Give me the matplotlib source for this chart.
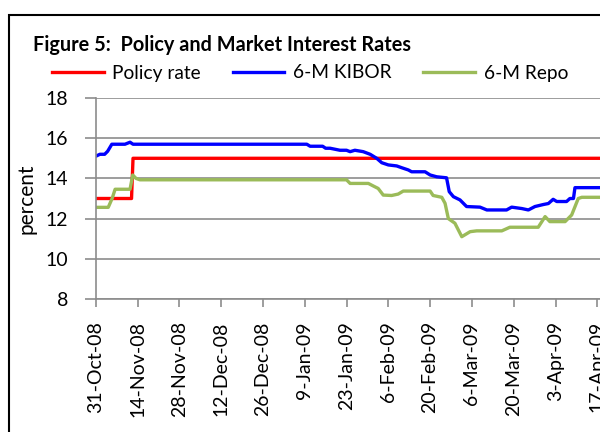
import numpy as np
import matplotlib
matplotlib.use('Agg')
import matplotlib.pyplot as plt
from matplotlib.patches import Rectangle

plt.rcParams['font.family'] = ['Lato', 'DejaVu Sans']

start = np.datetime64('2008-10-31')

# days since 31-Oct-08 and rates (percent)
policy_days = [0, 12, 12.5, 175]
policy_rate = [13, 13, 15, 15]

kibor_days = [0, 1.4, 3, 4, 5.4, 9.8, 11.5, 12.5, 70.7, 71.8, 76, 77, 78.5, 81.8, 84,
              85.2, 86.8, 89.6, 91.9, 94.1, 95.8, 98, 100.8, 102.5, 104.7, 105.8,
              110.3, 112, 114.2, 117.5, 118.4, 119.8, 122, 124.2, 128.7, 131, 137.6,
              139.3, 142.7, 144.9, 147.1, 149.9, 151.6, 153.2, 154.4, 157.7, 158.8,
              160, 160.5, 175]
kibor_rate = [15.1, 15.2, 15.2, 15.35, 15.7, 15.7, 15.8, 15.7, 15.7, 15.6, 15.6, 15.5,
              15.5, 15.4, 15.4, 15.33, 15.4, 15.33, 15.2, 15.0, 14.78, 14.67, 14.62,
              14.53, 14.42, 14.33, 14.33, 14.17, 14.08, 14.03, 13.34, 13.09, 12.93,
              12.6, 12.57, 12.43, 12.43, 12.57, 12.5, 12.43, 12.6, 12.7, 12.75, 12.96,
              12.85, 12.85, 13.0, 13.0, 13.54, 13.54]

repo_days = [0, 4.2, 5.5, 6.5, 11.5, 12.4, 13.5, 14.8, 84, 85.2, 91.3, 93, 94.6, 96.3,
             99.1, 101.3, 103, 112, 113, 115.9, 117, 118.1, 120.3, 122.6, 125.4, 127.6,
             136, 138.7, 148.2, 150.5, 152.1, 157.2, 159.4, 161.6, 162.8, 175]
repo_rate = [12.56, 12.56, 13.0, 13.46, 13.46, 14.17, 14.0, 13.93, 13.93, 13.75, 13.75,
             13.62, 13.5, 13.17, 13.15, 13.22, 13.37, 13.37, 13.15, 13.06, 12.76, 12.0,
             11.77, 11.1, 11.35, 11.39, 11.39, 11.57, 11.57, 12.1, 11.85, 11.85, 12.18,
             13.0, 13.06, 13.06]

tick_labels = ['31-Oct-08', '14-Nov-08', '28-Nov-08', '12-Dec-08', '26-Dec-08', '9-Jan-09',
               '23-Jan-09', '6-Feb-09', '20-Feb-09', '6-Mar-09', '20-Mar-09', '3-Apr-09',
               '17-Apr-09']


def to_dates(days):
    return start + (np.array(days) * 24 * 60).astype('timedelta64[m]')


fig = plt.figure(figsize=(6, 4.32), dpi=100)
# plot area runs past the right edge, the reference is cropped there
ax = fig.add_axes([95.7 / 600, 1 - 299 / 432, 180 * 2.986 / 600, 201 / 432])

ax.plot(to_dates(policy_days), policy_rate, color='#FF0000', lw=2.4, label='Policy rate')
ax.plot(to_dates(kibor_days), kibor_rate, color='#0000FF', lw=2.4, label='6-M KIBOR')
ax.plot(to_dates(repo_days), repo_rate, color='#9BBB59', lw=2.4, label='6-M Repo')

ax.set_ylim(8, 18)
ax.set_yticks(range(8, 19, 2))
ax.set_xlim(start, start + np.timedelta64(180, 'D'))
tick_pos = [start + np.timedelta64(14 * i, 'D') for i in range(len(tick_labels))]
ax.set_xticks(tick_pos)
ax.set_xticklabels(tick_labels, rotation=90, fontsize=14)
ax.tick_params(axis='y', labelsize=14, length=8, width=1.2, color='#8c8c8c', pad=12)
ax.tick_params(axis='x', length=6, width=1.2, color='#8c8c8c', pad=10)
ax.grid(axis='y', color='#8c8c8c', lw=1.2)
ax.set_axisbelow(True)
for s in ['top', 'right']:
    ax.spines[s].set_visible(False)
for s in ['left', 'bottom']:
    ax.spines[s].set_color('#8c8c8c')
    ax.spines[s].set_linewidth(1.2)
ax.set_ylabel('percent', fontsize=15, labelpad=6)

fig.text(33 / 600, 1 - 45 / 432, 'Figure 5:  Policy and Market Interest Rates',
         fontsize=14.3, fontweight='bold', va='center', ha='left')
fig.legend(loc='center left', bbox_to_anchor=(52 / 600, 1 - 73 / 432), ncol=3,
           frameon=False, fontsize=13.8, handlelength=2.7, handletextpad=0.45,
           columnspacing=1.65, borderaxespad=0, borderpad=0)

fig.patches.append(Rectangle((9 / 600, -0.1), 1.2, 1 - 15 / 432 + 0.1,
                             transform=fig.transFigure, fill=False,
                             edgecolor='black', lw=1.5))

fig.savefig('out.png', dpi=100)
